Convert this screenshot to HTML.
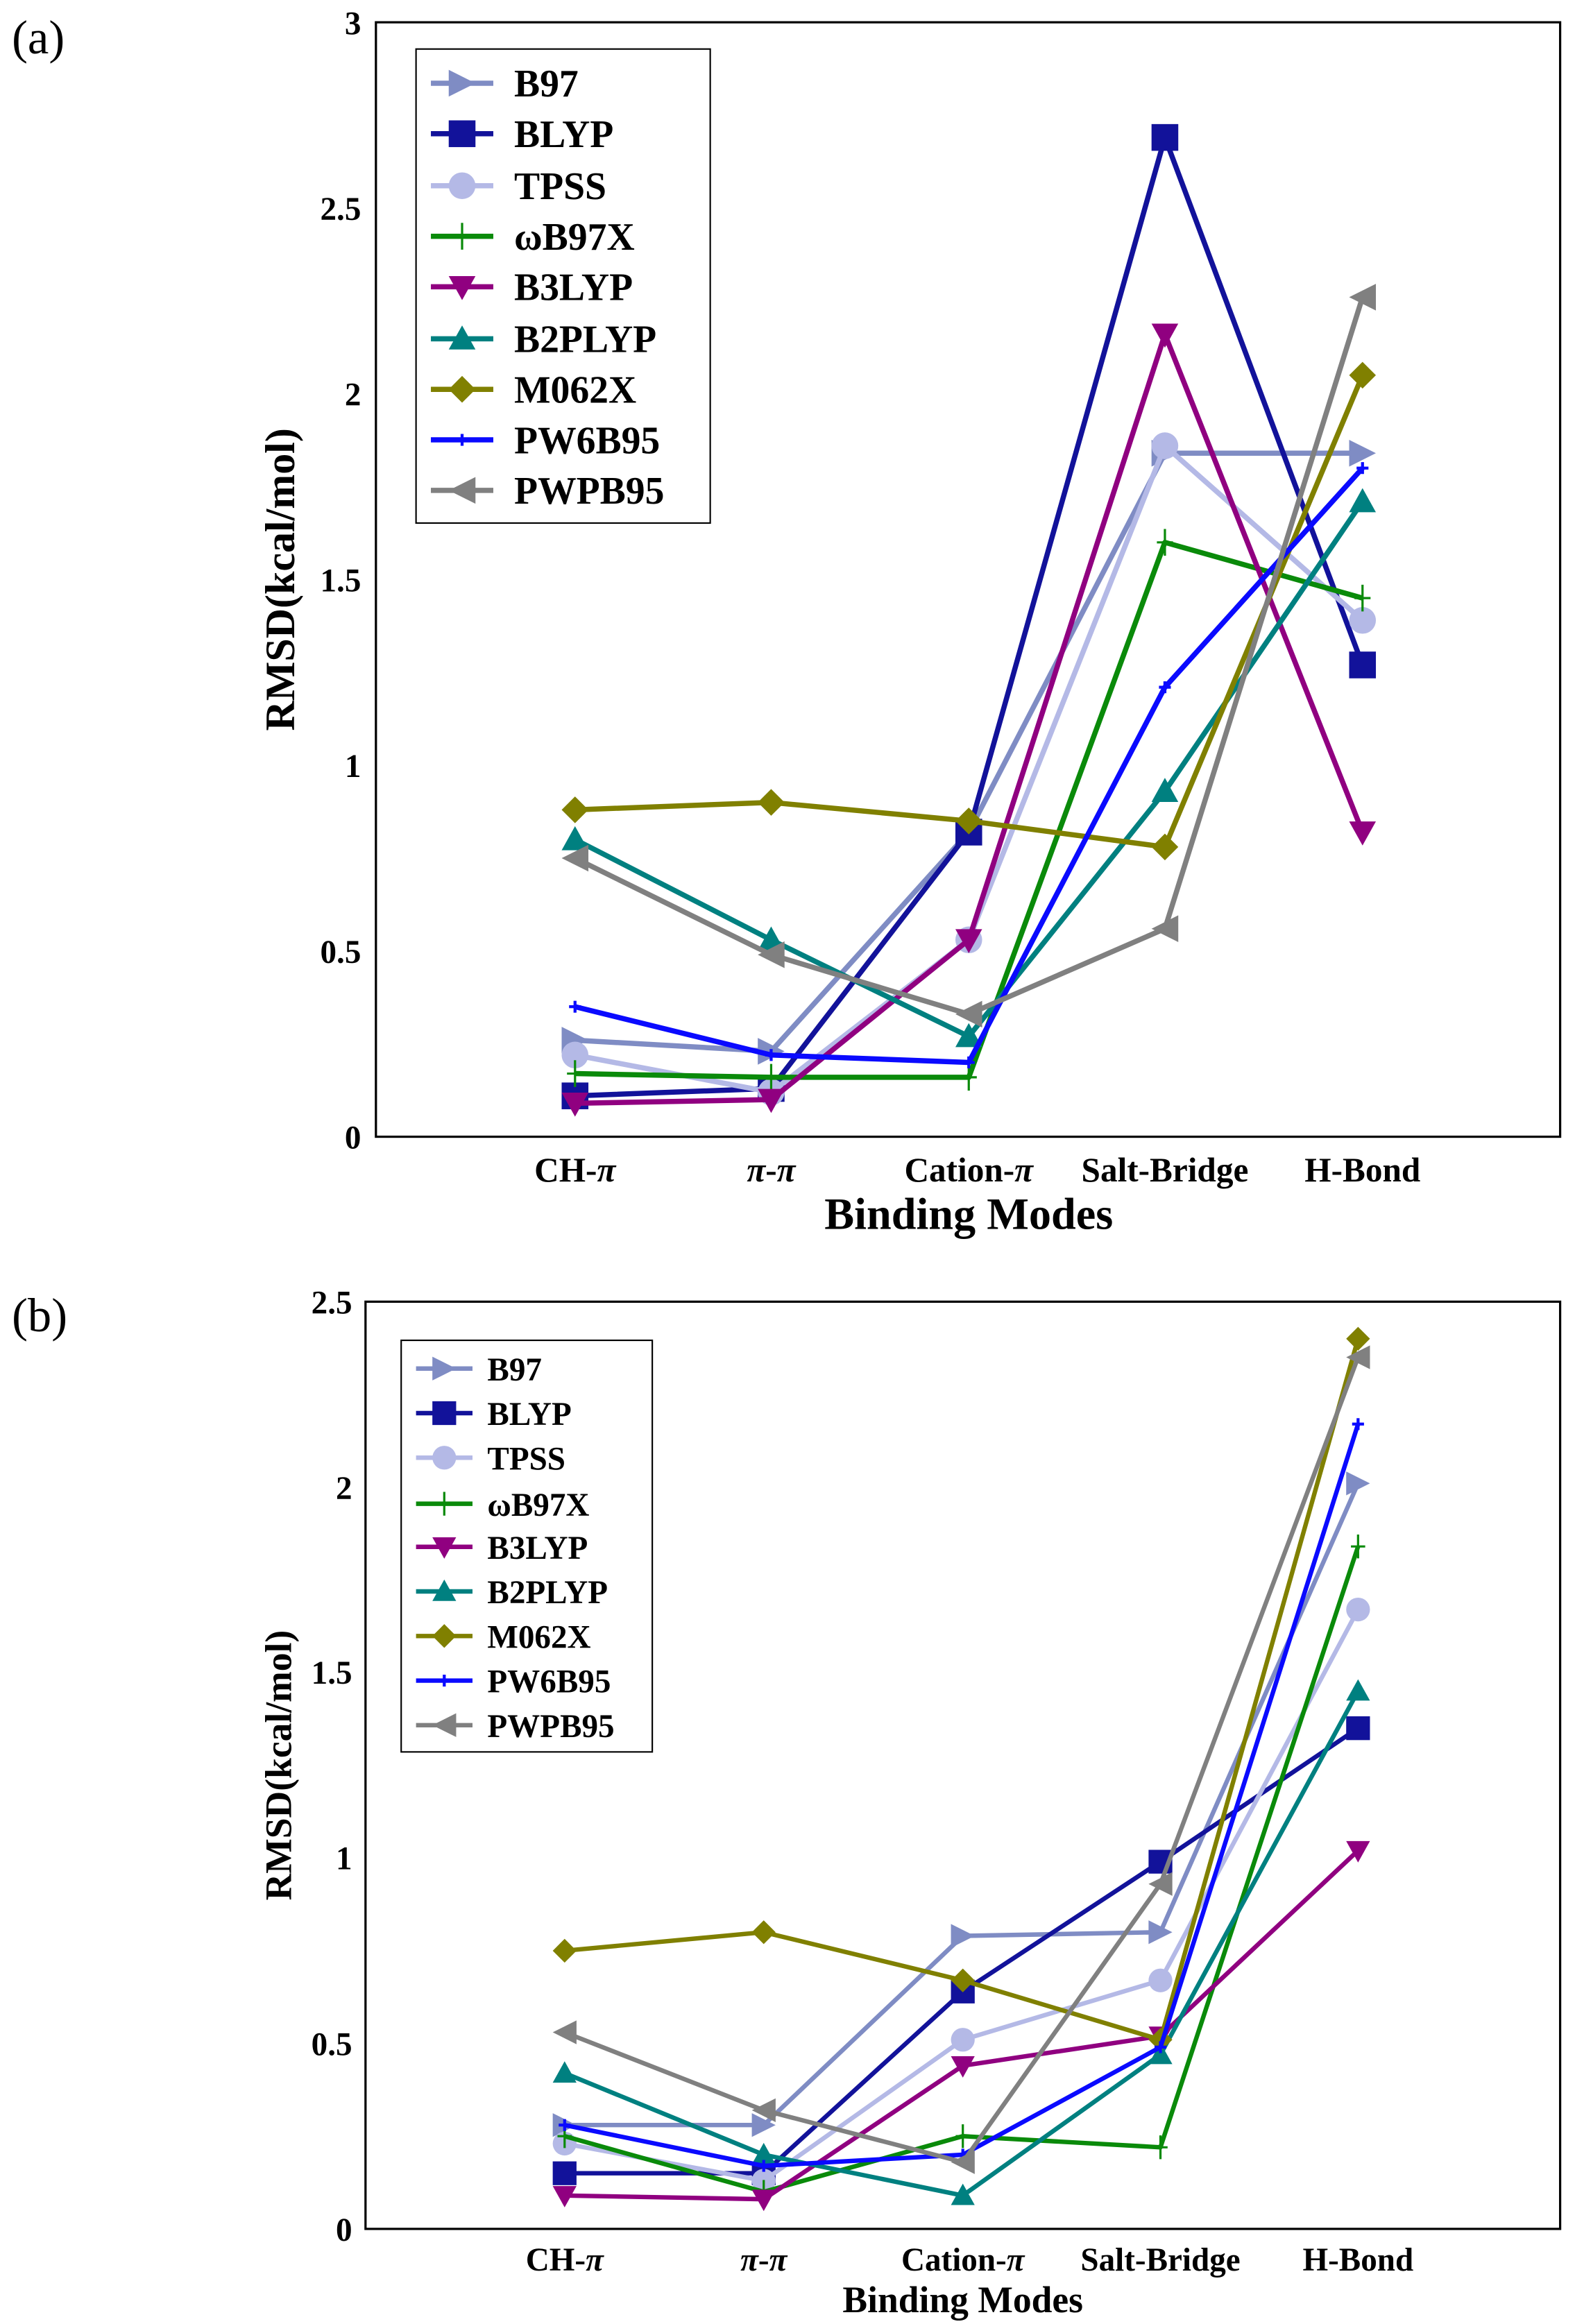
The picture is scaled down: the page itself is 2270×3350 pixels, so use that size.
<!DOCTYPE html>
<html><head><meta charset="utf-8"><style>
html,body{margin:0;padding:0;background:#fff;}
svg{display:block;}
text{font-family:"Liberation Serif",serif;font-weight:bold;fill:#000;}
</style></head><body>
<svg id="s" width="2270" height="3350" viewBox="0 0 1060 1564" preserveAspectRatio="none" xmlns="http://www.w3.org/2000/svg">
<rect width="1060" height="1564" fill="#fff"/>
<text x="8" y="36" font-size="32" style="font-weight:normal">(a)</text>
<text x="8" y="896" font-size="32" style="font-weight:normal">(b)</text>
<!-- panel a -->
<rect x="253" y="15" width="797" height="750" fill="none" stroke="#000" stroke-width="1.5"/>
<g font-size="22" text-anchor="end">
<text x="243" y="23">3</text><text x="243" y="148">2.5</text><text x="243" y="273">2</text>
<text x="243" y="398">1.5</text><text x="243" y="523">1</text><text x="243" y="648">0.5</text><text x="243" y="773">0</text>
</g>
<text transform="translate(198,390) rotate(-90)" font-size="28" text-anchor="middle">RMSD(kcal/mol)</text>
<g font-size="23" text-anchor="middle">
<text x="387" y="795">CH-<tspan font-style="italic">π</tspan></text>
<text x="519" y="795"><tspan font-style="italic">π</tspan>-<tspan font-style="italic">π</tspan></text>
<text x="652" y="795">Cation-<tspan font-style="italic">π</tspan></text>
<text x="784" y="795">Salt-Bridge</text>
<text x="917" y="795">H-Bond</text>
</g>
<text x="652" y="827" font-size="30" text-anchor="middle">Binding Modes</text>
<!-- panel b -->
<rect x="246" y="876" width="804" height="624" fill="none" stroke="#000" stroke-width="1.5"/>
<g font-size="22" text-anchor="end">
<text x="237" y="884">2.5</text><text x="237" y="1009">2</text><text x="237" y="1133">1.5</text>
<text x="237" y="1258">1</text><text x="237" y="1383">0.5</text><text x="237" y="1508">0</text>
</g>
<text transform="translate(196,1188) rotate(-90)" font-size="25" text-anchor="middle">RMSD(kcal/mol)</text>
<g font-size="22" text-anchor="middle">
<text x="380" y="1528">CH-<tspan font-style="italic">π</tspan></text>
<text x="514" y="1528"><tspan font-style="italic">π</tspan>-<tspan font-style="italic">π</tspan></text>
<text x="648" y="1528">Cation-<tspan font-style="italic">π</tspan></text>
<text x="781" y="1528">Salt-Bridge</text>
<text x="914" y="1528">H-Bond</text>
</g>
<text x="648" y="1556" font-size="25" text-anchor="middle">Binding Modes</text>
<g id="plots"></g>
<rect x="280" y="33" width="198" height="319" fill="#fff" stroke="#000" stroke-width="1"/>
<g font-size="26">
<text x="346" y="65">B97</text><text x="346" y="99">BLYP</text><text x="346" y="134">TPSS</text>
<text x="346" y="168">ωB97X</text><text x="346" y="202">B3LYP</text><text x="346" y="237">B2PLYP</text>
<text x="346" y="271">M062X</text><text x="346" y="305">PW6B95</text><text x="346" y="339">PWPB95</text>
</g>
<rect x="270" y="902" width="169" height="277" fill="#fff" stroke="#000" stroke-width="1"/>
<g font-size="22">
<text x="328" y="929">B97</text><text x="328" y="959">BLYP</text><text x="328" y="989">TPSS</text>
<text x="328" y="1020">ωB97X</text><text x="328" y="1049">B3LYP</text><text x="328" y="1079">B2PLYP</text>
<text x="328" y="1109">M062X</text><text x="328" y="1139">PW6B95</text><text x="328" y="1169">PWPB95</text>
</g>
<g id="leg"></g>
</svg>
<script>
var NS="http://www.w3.org/2000/svg";
var S=[["#7f8cc4","tr"],["#12129a","sq"],["#b4b9e6","ci"],["#0a8a0a","pl"],["#900080","td"],["#008080","tu"],["#808000","di"],["#0a0aff","dot"],["#808080","tl"]];
var A=[[0.26,0.23,0.82,1.84,1.84],[0.11,0.13,0.82,2.69,1.27],[0.22,0.12,0.53,1.86,1.39],[0.17,0.16,0.16,1.60,1.45],[0.09,0.10,0.53,2.16,0.82],[0.80,0.53,0.27,0.93,1.71],[0.88,0.90,0.85,0.78,2.05],[0.35,0.22,0.20,1.21,1.80],[0.75,0.49,0.33,0.56,2.26]];
var B=[[0.28,0.28,0.79,0.80,2.01],[0.15,0.15,0.64,0.99,1.35],[0.23,0.13,0.51,0.67,1.67],[0.25,0.10,0.25,0.22,1.84],[0.09,0.08,0.44,0.52,1.02],[0.42,0.20,0.09,0.47,1.45],[0.75,0.80,0.67,0.51,2.40],[0.28,0.17,0.20,0.49,2.17],[0.53,0.32,0.18,0.93,2.35]];
function el(t,a,p){var e=document.createElementNS(NS,t);for(var k in a)e.setAttribute(k,a[k]);p.appendChild(e);return e;}
function mk(g,x,y,t,c,r,lw){
 var p;
 if(t=="sq")el("rect",{x:x-r,y:y-r,width:2*r,height:2*r,fill:c},g);
 else if(t=="ci")el("circle",{cx:x,cy:y,r:r,fill:c},g);
 else if(t=="pl")el("path",{d:"M"+x+" "+(y-r)+"V"+(y+r)+"M"+(x-r*0.6)+" "+y+"H"+(x+r*0.6),stroke:c,"stroke-width":1.5},g);
 else if(t=="dot")el("path",{d:"M"+(x-4)+" "+y+"H"+(x+4)+"M"+x+" "+(y-4)+"V"+(y+4),stroke:c,"stroke-width":2},g);
 else{var q;
  if(t=="tr")q=[[x+r,y],[x-r,y-r],[x-r,y+r]];
  if(t=="tl")q=[[x-r,y],[x+r,y-r],[x+r,y+r]];
  if(t=="tu")q=[[x,y-r],[x-r,y+r*0.8],[x+r,y+r*0.8]];
  if(t=="td")q=[[x,y+r],[x-r,y-r*0.8],[x+r,y-r*0.8]];
  if(t=="di")q=[[x,y-r],[x+r,y],[x,y+r],[x-r,y]];
  el("polygon",{points:q.map(function(a){return a.join(",")}).join(" "),fill:c},g);}
}
var G=document.getElementById("plots");
function plot(D,xs,y0,sc,r,lw){
 D.forEach(function(d,i){var c=S[i][0];
  var pts=d.map(function(v,j){return [xs[j],y0-v*sc]});
  el("polyline",{points:pts.map(function(a){return a.join(",")}).join(" "),fill:"none",stroke:c,"stroke-width":lw,"stroke-linejoin":"round"},G);
  pts.forEach(function(p){mk(G,p[0],p[1],S[i][1],c,r,lw)});
 });
}
plot(A,[387,519,652,784,917],765,250,9,3.5);
plot(B,[380,514,648,781,914],1500,249.6,8,3);
var L=document.getElementById("leg");
[56,90,125,159,193,228,262,296,330].forEach(function(y,i){var c=S[i][0];el("line",{x1:290,y1:y,x2:332,y2:y,stroke:c,"stroke-width":3.5},L);mk(L,311,y,S[i][1],c,9,3.5);});
[921,951,981,1012,1041,1071,1101,1131,1161].forEach(function(y,i){var c=S[i][0];el("line",{x1:280,y1:y,x2:318,y2:y,stroke:c,"stroke-width":3},L);mk(L,299,y,S[i][1],c,8,3);});
</script>
</body></html>
